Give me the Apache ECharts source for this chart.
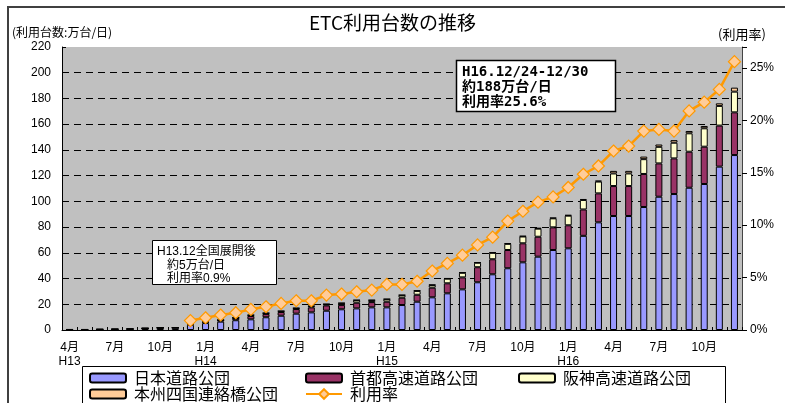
<!DOCTYPE html>
<html><head><meta charset="utf-8">
<script src="https://cdn.jsdelivr.net/npm/echarts@6/dist/echarts.min.js"></script>
<style>html,body{margin:0;padding:0;background:#fff}#c{width:785px;height:403px}</style>
</head><body><div id="c"></div>
<script>
const categories = [
  "4月\nH13","5月","6月","7月","8月","9月","10月","11月","12月",
  "1月\nH14","2月","3月","4月","5月","6月","7月","8月","9月","10月","11月","12月",
  "1月\nH15","2月","3月","4月","5月","6月","7月","8月","9月","10月","11月","12月",
  "1月\nH16","2月","3月","4月","5月","6月","7月","8月","9月","10月","11月","12月"
];
const japanHighway = [0.3,0.3,0.4,0.5,0.6,1.2,1.6,1.7,4.0,5.4,6.5,7.6,8.3,9.9,11.1,12.7,13.7,15.0,16.1,16.8,17.6,17.6,19.4,22.0,25.4,28.5,31.6,37.1,43.3,48.0,52.6,57.0,62.2,63.5,73.2,83.7,88.6,88.6,95.6,103.6,105.7,110.6,113.5,127.0,136.0];
const metroExpressway = [0.1,0.1,0.1,0.1,0.2,0.1,0.2,0.2,0.7,0.9,1.1,1.7,2.6,2.6,2.9,3.6,3.9,4.1,3.4,4.4,4.1,4.4,5.7,5.4,7.5,7.8,9.3,11.7,11.7,14.2,14.8,15.5,17.6,17.9,20.5,22.5,23.3,23.3,25.7,25.9,27.7,28.0,29.0,31.9,33.2];
const hanshinExpressway = [0,0,0,0,0,0,0,0,0.1,0.1,0.1,0.2,0.6,0.6,0.6,0.6,0.9,0.9,1.3,1.9,1.4,1.9,1.9,3.0,2.0,3.6,3.6,3.5,5.0,4.8,5.3,6.3,7.0,7.5,7.4,9.2,9.8,9.8,11.5,12.9,12.2,14.3,14.3,15.3,16.1];
const honshuShikoku = [0,0,0,0,0,0,0,0,0.1,0.1,0.1,0.1,0.2,0.1,0.2,0.2,0.2,0.2,0.2,0.2,0.2,0.2,0.2,0.3,0.3,0.3,0.3,0.3,0.4,0.4,0.4,0.5,0.5,0.5,0.7,0.7,2.0,2.0,2.0,1.8,2.0,1.8,1.8,2.0,3.1];
const usageRate = [null,null,null,null,null,null,null,null,0.9,1.17,1.43,1.65,1.97,2.22,2.54,2.79,2.79,3.33,3.43,3.65,3.81,4.35,4.35,4.65,5.63,6.35,7.14,8.12,8.86,10.39,11.33,12.2,12.7,13.6,14.86,15.65,17.08,17.55,18.98,19.14,18.98,20.9,21.74,22.95,25.6];
const leftTicks = {min:0, max:220, interval:20};
const rightTicks = {min:0, max:27, interval:5};
const seriesNames = ["日本道路公団","首都高速道路公団","阪神高速道路公団","本州四国連絡橋公団","利用率"];

const FONT = '"Liberation Sans", Arial, "Noto Sans CJK JP", sans-serif';
const JFONT = '"Noto Sans CJK JP", "Liberation Sans", sans-serif';
const chart = echarts.init(document.getElementById('c'), null, {renderer:'canvas'});

function barSeries(name, data, color) {
  return {name, type:'bar', stack:'total', data, barWidth:7,
    itemStyle:{color, borderColor:'#000', borderWidth:1}, z:2};
}
function legendAt(name, left, top, iw, ih) {
  return {data:[name], left, top, padding:0, itemWidth:iw, itemHeight:ih, itemGap:0,
    selectedMode:false, textStyle:{fontFamily:JFONT, fontSize:16, color:'#000', padding:[0,0,0,3]}};
}

chart.setOption({
  animation:false,
  backgroundColor:'#fff',
  title:{text:'ETC利用台数の推移', left:'center', top:8,
    textStyle:{fontFamily:JFONT, fontSize:19, fontWeight:'normal', color:'#000'}},
  grid:{left:62, right:43, top:47, bottom:73, show:true, backgroundColor:'#C0C0C0', borderWidth:0},
  legend:[
    legendAt(seriesNames[0], 89, 370, 36, 9),
    legendAt(seriesNames[1], 305, 370, 36, 9),
    legendAt(seriesNames[2], 518, 370, 36, 9),
    legendAt(seriesNames[3], 89, 386, 36, 9),
    legendAt(seriesNames[4], 305, 386, 36, 12)
  ],
  xAxis:{type:'category', data:categories, boundaryGap:true,
    axisLine:{lineStyle:{color:'#000', width:1}},
    axisTick:{show:true, interval:0, inside:true, length:3, lineStyle:{color:'#000'}},
    axisLabel:{interval:2, margin:11, fontFamily:FONT, fontSize:12, lineHeight:14, color:'#000'},
    splitLine:{show:false}},
  yAxis:[
    {type:'value', min:leftTicks.min, max:leftTicks.max, interval:leftTicks.interval, position:'left',
     axisLine:{show:true, lineStyle:{color:'#000', width:1}},
     axisTick:{show:true, inside:true, length:4, lineStyle:{color:'#000'}},
     axisLabel:{margin:11, fontFamily:FONT, fontSize:12, color:'#000'},
     splitLine:{show:true, showMaxLine:false, showMinLine:false, lineStyle:{color:'#000', width:1, type:[7,5]}}},
    {type:'value', min:rightTicks.min, max:rightTicks.max, interval:rightTicks.interval, position:'right',
     axisLine:{show:true, lineStyle:{color:'#444', width:1}},
     axisTick:{show:true, inside:false, length:5, lineStyle:{color:'#000'}},
     axisLabel:{margin:8, fontFamily:FONT, fontSize:12, color:'#000',
       formatter:(v)=> (v % 5 === 0 ? v + '%' : '')},
     splitLine:{show:false}}
  ],
  series:[
    barSeries(seriesNames[0], japanHighway, '#9999FF'),
    barSeries(seriesNames[1], metroExpressway, '#993366'),
    barSeries(seriesNames[2], hanshinExpressway, '#FFFFCC'),
    barSeries(seriesNames[3], honshuShikoku, '#FFCC99'),
    {name:seriesNames[4], type:'line', yAxisIndex:1, data:usageRate, z:5,
     symbol:'diamond', symbolSize:12, showAllSymbol:true,
     lineStyle:{color:'#FF9900', width:2.5},
     itemStyle:{color:'#FFCC99', borderColor:'#FF9900', borderWidth:1.2}}
  ],
  graphic:[
    {type:'rect', z:-10, shape:{x:8, y:7, width:800, height:420}, style:{fill:'none', stroke:'#404040', lineWidth:2}},
    {type:'text', left:12, top:26, style:{text:'(利用台数:万台/日)', font:'12px "Noto Sans CJK JP"', fill:'#000'}},
    {type:'text', left:718, top:28, style:{text:'(利用率)', font:'13px "Noto Sans CJK JP"', fill:'#000'}},
    {type:'rect', z:-5, shape:{x:82.5, y:366.5, width:643, height:50}, style:{fill:'#fff', stroke:'#000', lineWidth:1}},
    {type:'group', z:100, children:[
      {type:'rect', z:100, shape:{x:152.5, y:240.5, width:124, height:44}, style:{fill:'#fff', stroke:'#000', lineWidth:1}},
      {type:'text', z:101, x:157, y:252, style:{text:'H13.12全国展開後', font:'12px "Liberation Sans", "Noto Sans CJK JP"', fill:'#000', verticalAlign:'middle'}},
      {type:'text', z:101, x:167, y:266, style:{text:'約5万台/日', font:'12px "Liberation Sans", "Noto Sans CJK JP"', fill:'#000', verticalAlign:'middle'}},
      {type:'text', z:101, x:167, y:279, style:{text:'利用率0.9%', font:'12px "Liberation Sans", "Noto Sans CJK JP"', fill:'#000', verticalAlign:'middle'}},
      {type:'rect', z:100, shape:{x:456.5, y:60.5, width:159, height:51}, style:{fill:'#fff', stroke:'#000', lineWidth:1.5}},
      {type:'text', z:101, x:462, y:72, style:{text:'H16.12/24-12/30', font:'bold 14px "DejaVu Sans Mono", "Noto Sans CJK JP"', fill:'#000', verticalAlign:'middle'}},
      {type:'text', z:101, x:462, y:87, style:{text:'約188万台/日', font:'bold 14px "DejaVu Sans Mono", "Noto Sans CJK JP"', fill:'#000', verticalAlign:'middle'}},
      {type:'text', z:101, x:462, y:102, style:{text:'利用率25.6%', font:'bold 14px "DejaVu Sans Mono", "Noto Sans CJK JP"', fill:'#000', verticalAlign:'middle'}}
    ]}
  ]
});
</script></body></html>
